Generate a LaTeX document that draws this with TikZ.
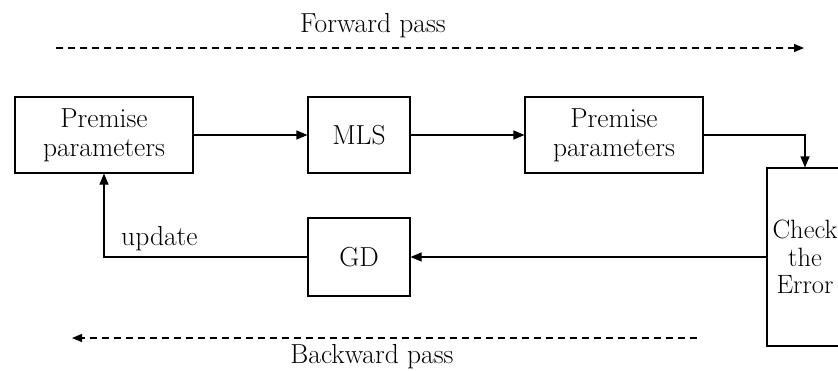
\documentclass[tikz,border=0pt]{standalone}
\usetikzlibrary{arrows.meta}
\begin{document}
\begin{tikzpicture}[x=1pt,y=-1pt,
  box/.style={draw, line width=1.1pt, inner sep=0pt, align=center, font=\fontsize{27.5}{29}\selectfont},
  lbl/.style={inner sep=0pt, font=\fontsize{27.5}{29}\selectfont},
  conn/.style={line width=1.1pt, -{Triangle[length=11pt,width=9pt]}},
  pass/.style={line width=1.2pt, dash pattern=on 7pt off 5pt, -{Triangle[length=10pt,width=8pt]}}]
\clip (0,0) rectangle (838,370);
\useasboundingbox (0,0) rectangle (838,370);
\node[box, minimum width=178pt, minimum height=76pt] (p1) at (104,135) {Premise\\parameters};
\node[box, minimum width=102pt, minimum height=76pt] (mls) at (359,135) {MLS};
\node[box, minimum width=178pt, minimum height=76pt] (p2) at (614,135) {Premise\\parameters};
\node[box, minimum width=76pt, minimum height=178pt, font=\fontsize{26.5}{27.5}\selectfont] (chk) at (805,257) {Check\\the\\Error};
\node[box, minimum width=102pt, minimum height=78pt] (gd) at (359,257) {GD};
\draw[conn] (p1.east) -- (mls.west);
\draw[conn] (mls.east) -- (p2.west);
\draw[conn] (p2.east) -| (chk.north);
\draw[conn] (chk.west) -- (gd.east);
\draw[conn] (gd.west) -| (p1.south);
\node[lbl, anchor=south west] (upd) at (121,251) {update};
\coordinate (fs) at (56,48);
\coordinate (fe) at (804,48);
\draw[pass] (fs) -- (fe);
\node[lbl] (fl) at (373,26) {Forward pass};
\coordinate (bs) at (697,338);
\coordinate (be) at (72,338);
\draw[pass] (bs) -- (be);
\node[lbl] (bl) at (372,357) {Backward pass};
\end{tikzpicture}
\end{document}
